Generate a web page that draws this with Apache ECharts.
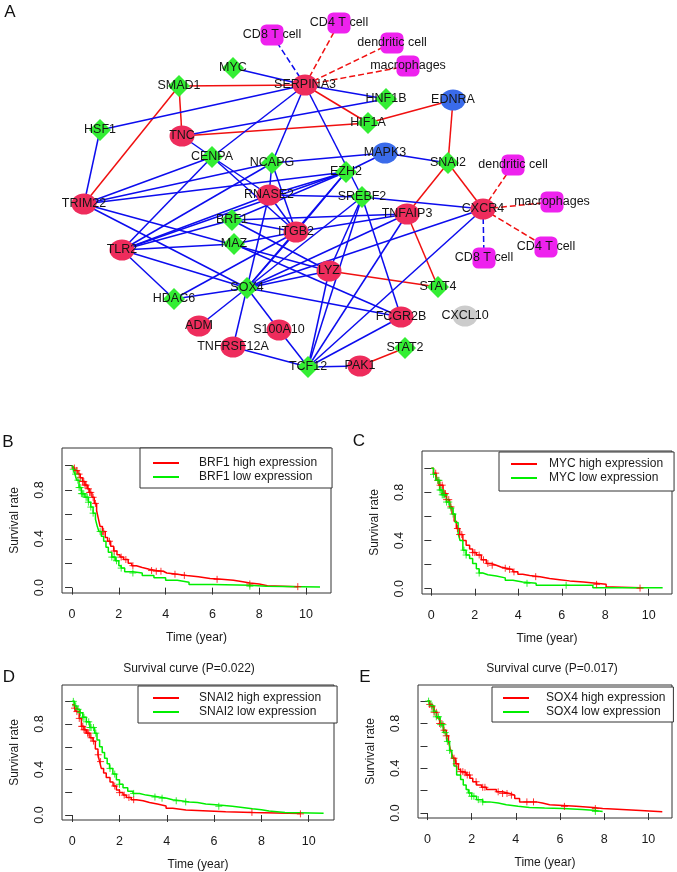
<!DOCTYPE html>
<html><head><meta charset="utf-8">
<script src="https://cdn.jsdelivr.net/npm/echarts@6/dist/echarts.min.js"></script>
<style>html,body{margin:0;padding:0;background:#fff}#c{width:677px;height:872px}</style>
</head><body><div id="c"></div><script>
// ---------------- Panel A: network data ----------------
// [id, label, type, x, y]  (layout position of each node in the figure)
const netNodes = [
 ['CD8a','CD8 T cell','cell',272,35],
 ['CD4a','CD4 T cell','cell',339,23],
 ['DCa','dendritic cell','cell',392,43],
 ['MACa','macrophages','cell',408,66],
 ['MYC','MYC','tf',233,68],
 ['SMAD1','SMAD1','tf',179,86],
 ['SERPINA3','SERPINA3','gene',305,85],
 ['HNF1B','HNF1B','tf',386,99],
 ['EDNRA','EDNRA','blue',453,100],
 ['HSF1','HSF1','tf',100,130],
 ['TNC','TNC','gene',182,136],
 ['HIF1A','HIF1A','tf',368,123],
 ['CENPA','CENPA','tf',212,157],
 ['NCAPG','NCAPG','tf',272,163],
 ['MAPK3','MAPK3','blue',385,153],
 ['SNAI2','SNAI2','tf',448,163],
 ['DCb','dendritic cell','cell',513,165],
 ['EZH2','EZH2','tf',346,172],
 ['RNASE2','RNASE2','gene',269,195],
 ['SREBF2','SREBF2','tf',362,197],
 ['TRIM22','TRIM22','gene',84,204],
 ['CXCR4','CXCR4','gene',483,209],
 ['MACb','macrophages','cell',552,202],
 ['TNFAIP3','TNFAIP3','gene',407,214],
 ['BRF1','BRF1','tf',232,220],
 ['ITGB2','ITGB2','gene',296,232],
 ['MAZ','MAZ','tf',234,244],
 ['TLR2','TLR2','gene',122,250],
 ['CD4b','CD4 T cell','cell',546,247],
 ['CD8b','CD8 T cell','cell',484,258],
 ['LYZ','LYZ','gene',329,271],
 ['STAT4','STAT4','tf',438,287],
 ['SOX4','SOX4','tf',247,288],
 ['HDAC6','HDAC6','tf',174,299],
 ['CXCL10','CXCL10','grey',465,316],
 ['FCGR2B','FCGR2B','gene',401,317],
 ['ADM','ADM','gene',199,326],
 ['S100A10','S100A10','gene',279,330],
 ['TNFRSF12A','TNFRSF12A','gene',233,347],
 ['STAT2','STAT2','tf',405,348],
 ['TCF12','TCF12','tf',308,367],
 ['PAK1','PAK1','gene',360,366]
];
// [source, target, kind]  b = blue, r = red, bd / rd = dashed
const netEdges = [
 ['SMAD1','SERPINA3','r'],['SMAD1','TNC','r'],['SMAD1','TRIM22','r'],['TNC','HIF1A','r'],
 ['SERPINA3','HIF1A','r'],['HIF1A','EDNRA','r'],['EDNRA','SNAI2','r'],['SNAI2','CXCR4','r'],
 ['SNAI2','TNFAIP3','r'],['TNFAIP3','STAT4','r'],['LYZ','STAT4','r'],['PAK1','STAT2','r'],
 ['SERPINA3','CD4a','rd'],['SERPINA3','DCa','rd'],['SERPINA3','MACa','rd'],
 ['CXCR4','DCb','rd'],['CXCR4','MACb','rd'],['CXCR4','CD4b','rd'],
 ['SERPINA3','CD8a','bd'],['CXCR4','CD8b','bd'],
 ['MYC','SERPINA3','b'],['SERPINA3','HNF1B','b'],['HSF1','SERPINA3','b'],['SERPINA3','CENPA','b'],
 ['SERPINA3','NCAPG','b'],['SERPINA3','SREBF2','b'],['TNC','HNF1B','b'],['TNC','CENPA','b'],
 ['CENPA','ITGB2','b'],['HSF1','TRIM22','b'],['CENPA','TRIM22','b'],['CENPA','TLR2','b'],
 ['CENPA','RNASE2','b'],['NCAPG','TRIM22','b'],['NCAPG','TLR2','b'],['NCAPG','RNASE2','b'],
 ['NCAPG','ITGB2','b'],['NCAPG','MAPK3','b'],['EZH2','TRIM22','b'],['EZH2','TLR2','b'],
 ['EZH2','MAPK3','b'],['EZH2','ITGB2','b'],['EZH2','BRF1','b'],['EZH2','SOX4','b'],
 ['EZH2','RNASE2','b'],['MAPK3','SNAI2','b'],['RNASE2','SREBF2','b'],['SREBF2','CXCR4','b'],
 ['RNASE2','SOX4','b'],['RNASE2','ITGB2','b'],['RNASE2','TLR2','b'],['BRF1','TLR2','b'],
 ['BRF1','ITGB2','b'],['BRF1','TNFAIP3','b'],['BRF1','LYZ','b'],['MAZ','TLR2','b'],
 ['MAZ','ITGB2','b'],['MAZ','FCGR2B','b'],['ITGB2','SOX4','b'],['ITGB2','TNFAIP3','b'],
 ['ITGB2','HDAC6','b'],['SOX4','HDAC6','b'],['SOX4','ADM','b'],['SOX4','TNFRSF12A','b'],
 ['SOX4','S100A10','b'],['SOX4','LYZ','b'],['SOX4','SREBF2','b'],['SOX4','TNFAIP3','b'],
 ['SOX4','CXCR4','b'],['SOX4','FCGR2B','b'],['SOX4','TLR2','b'],['SOX4','TRIM22','b'],
 ['TLR2','HDAC6','b'],['TRIM22','LYZ','b'],['TCF12','S100A10','b'],['TCF12','TNFRSF12A','b'],
 ['TCF12','PAK1','b'],['TCF12','LYZ','b'],['TCF12','SREBF2','b'],['TCF12','TNFAIP3','b'],
 ['TCF12','CXCR4','b'],['TCF12','FCGR2B','b'],['LYZ','SREBF2','b'],['SREBF2','FCGR2B','b']
];

// ---------------- Panels B-E: Kaplan-Meier data ----------------
const xTicks = [0, 2, 4, 6, 8, 10];
const yTicks = [0, 0.2, 0.4, 0.6, 0.8, 1.0];
const yTickLabels = [0, 0.4, 0.8];

const brf1High = [[0,1],[0.08,0.98],[0.15,0.96],[0.25,0.93],[0.35,0.9],[0.45,0.87],[0.55,0.84],[0.65,0.81],[0.75,0.78],[0.85,0.74],[0.95,0.69],[1.05,0.63],[1.12,0.57],[1.2,0.5],[1.3,0.46],[1.42,0.41],[1.52,0.38],[1.65,0.34],[1.78,0.3],[1.92,0.27],[2.05,0.25],[2.2,0.23],[2.4,0.2],[2.55,0.18],[2.75,0.165],[3.0,0.15],[3.3,0.14],[3.6,0.134],[3.9,0.12],[4.05,0.11],[4.5,0.1],[4.9,0.09],[5.4,0.075],[5.9,0.068],[6.4,0.06],[6.9,0.048],[7.3,0.038],[7.6,0.03],[8.0,0.016],[8.35,0.008],[9.65,0.008]];
const brf1Low = [[0,1],[0.05,0.97],[0.12,0.93],[0.2,0.88],[0.3,0.82],[0.4,0.77],[0.55,0.74],[0.7,0.7],[0.8,0.66],[0.9,0.61],[1.0,0.56],[1.08,0.5],[1.15,0.46],[1.25,0.42],[1.35,0.38],[1.45,0.33],[1.55,0.29],[1.7,0.25],[1.85,0.22],[2.0,0.18],[2.1,0.16],[2.25,0.13],[2.6,0.12],[3.0,0.1],[3.5,0.08],[4.0,0.06],[4.5,0.045],[5.0,0.025],[6.0,0.02],[7.6,0.012],[8.3,0.005],[10.6,0.005]];
const brf1HighCens = [0.1,0.2,0.3,0.35,0.45,0.5,0.55,0.6,0.7,0.75,0.8,0.9,1.0,1.3,1.35,1.6,1.8,2.1,2.3,2.6,3.4,3.6,3.8,4.4,4.8,6.2,7.6,9.65];
const brf1LowCens = [0.05,0.15,0.25,0.3,0.35,0.4,0.45,0.5,0.6,0.65,0.7,0.8,0.9,1.2,1.7,1.8,1.9,2.1,2.6,7.6];

const mycHigh = [[0,1],[0.1,0.96],[0.23,0.9],[0.35,0.86],[0.54,0.79],[0.7,0.74],[0.84,0.68],[0.95,0.62],[1.05,0.56],[1.15,0.5],[1.3,0.45],[1.45,0.4],[1.6,0.36],[1.76,0.33],[1.9,0.3],[2.07,0.28],[2.3,0.24],[2.53,0.21],[2.75,0.195],[2.99,0.18],[3.2,0.17],[3.45,0.16],[3.75,0.14],[3.98,0.12],[4.2,0.11],[4.52,0.1],[5.0,0.085],[5.44,0.075],[5.9,0.065],[6.36,0.055],[7.0,0.045],[7.58,0.036],[8.04,0.014],[8.35,0.008],[9.6,0.005]];
const mycLow = [[0,1],[0.1,0.95],[0.2,0.9],[0.38,0.82],[0.5,0.78],[0.69,0.72],[0.85,0.67],[1.0,0.62],[1.1,0.55],[1.23,0.46],[1.32,0.4],[1.45,0.32],[1.6,0.28],[1.76,0.25],[1.9,0.21],[2.07,0.166],[2.2,0.13],[2.37,0.116],[2.6,0.105],[2.99,0.09],[3.4,0.07],[3.75,0.055],[4.2,0.045],[4.82,0.028],[6.05,0.028],[7.43,0.008],[10.64,0.008]];
const mycHighCens = [0.2,0.3,0.4,0.5,0.6,0.65,0.7,0.8,0.9,1.2,1.3,1.4,1.9,2.0,2.2,2.4,2.6,2.8,3.4,3.6,3.8,4.8,7.6,9.6];
const mycLowCens = [0.1,0.3,0.35,0.4,0.45,0.5,0.55,0.6,0.7,0.8,0.9,1.0,1.5,1.6,2.2,4.4,6.2];

const snai2High = [[0,0.97],[0.1,0.94],[0.18,0.91],[0.3,0.85],[0.39,0.78],[0.5,0.75],[0.6,0.72],[0.75,0.68],[0.88,0.65],[0.98,0.58],[1.09,0.53],[1.16,0.47],[1.23,0.41],[1.33,0.37],[1.44,0.33],[1.6,0.29],[1.73,0.255],[1.87,0.22],[2.0,0.197],[2.15,0.175],[2.29,0.154],[2.5,0.135],[2.71,0.125],[3.0,0.11],[3.27,0.096],[3.6,0.08],[3.97,0.06],[4.25,0.043],[4.81,0.029],[6.49,0.023],[7.62,0.014],[9.65,0.01]];
const snai2Low = [[0,1],[0.1,0.96],[0.2,0.93],[0.32,0.9],[0.45,0.86],[0.6,0.82],[0.75,0.77],[0.95,0.72],[1.05,0.66],[1.16,0.6],[1.27,0.55],[1.37,0.5],[1.48,0.45],[1.58,0.41],[1.72,0.36],[1.87,0.31],[2.0,0.27],[2.15,0.24],[2.35,0.21],[2.57,0.19],[2.85,0.175],[3.13,0.168],[3.4,0.158],[3.69,0.148],[4.0,0.135],[4.25,0.125],[4.6,0.115],[4.95,0.11],[5.3,0.097],[5.65,0.087],[6.2,0.077],[6.77,0.067],[7.2,0.055],[7.62,0.046],[8.0,0.035],[8.32,0.023],[9.0,0.015],[10.63,0.009]];
const snai2HighCens = [0.1,0.2,0.3,0.4,0.45,0.5,0.55,0.65,0.7,0.8,0.9,1.1,1.2,1.8,2.0,2.2,2.4,2.6,7.6,9.65];
const snai2LowCens = [0.05,0.15,0.25,0.35,0.45,0.5,0.6,0.7,0.75,0.8,0.9,1.0,1.6,1.8,2.0,2.6,3.5,3.8,4.4,4.8,6.2];

const sox4High = [[0,1],[0.1,0.97],[0.2,0.95],[0.3,0.9],[0.42,0.85],[0.55,0.8],[0.72,0.74],[0.85,0.69],[0.95,0.64],[1.02,0.58],[1.1,0.53],[1.17,0.49],[1.28,0.44],[1.4,0.39],[1.5,0.37],[1.62,0.36],[1.75,0.34],[1.92,0.31],[2.05,0.28],[2.22,0.25],[2.45,0.23],[2.67,0.21],[3.12,0.19],[3.4,0.175],[3.72,0.16],[3.95,0.13],[4.17,0.1],[4.92,0.09],[5.2,0.075],[5.53,0.06],[6.73,0.05],[7.5,0.04],[7.93,0.036],[8.38,0.024],[9.65,0.012],[10.63,0.006]];
const sox4Low = [[0,1],[0.1,0.96],[0.27,0.91],[0.4,0.86],[0.57,0.79],[0.72,0.72],[0.87,0.64],[1.0,0.56],[1.1,0.49],[1.2,0.42],[1.32,0.34],[1.5,0.3],[1.62,0.25],[1.75,0.21],[1.85,0.18],[2.0,0.15],[2.22,0.12],[2.5,0.1],[2.8,0.09],[3.2,0.075],[3.57,0.06],[4.1,0.05],[4.62,0.045],[5.3,0.04],[6.13,0.033],[7.0,0.025],[7.48,0.015],[7.93,0.015]];
const sox4HighCens = [0.1,0.2,0.3,0.4,0.55,0.65,0.75,0.85,1.2,1.3,1.5,1.6,1.7,1.8,1.9,2.2,2.5,2.6,3.2,3.4,3.6,3.8,4.5,4.8,6.2,7.6];
const sox4LowCens = [0.05,0.2,0.3,0.4,0.5,0.6,0.7,0.8,0.9,1.0,1.9,2.0,2.1,2.3,2.5,7.6];

// ---------------- layout / style ----------------
const FONT = 'Arial, "Liberation Sans", Helvetica, sans-serif';
const RED = '#FF0000', GREEN = '#00EE00';
const panels = [
 {gene:'BRF1', hi:brf1High, lo:brf1Low, hiC:brf1HighCens, loC:brf1LowCens,
  grid:{left:62, top:448, width:269, height:145},
  legend:{left:140, top:448, padding:[8,15,4,12], gap:15}},
 {gene:'MYC', hi:mycHigh, lo:mycLow, hiC:mycHighCens, loC:mycLowCens,
  grid:{left:422, top:451, width:250, height:143},
  legend:{left:499, top:452, padding:[5,11,6,11], gap:7}},
 {gene:'SNAI2', hi:snai2High, lo:snai2Low, hiC:snai2HighCens, loC:snai2LowCens,
  grid:{left:62, top:685, width:272, height:136},
  legend:{left:138, top:686, padding:[5,16,4,14], gap:15}},
 {gene:'SOX4', hi:sox4High, lo:sox4Low, hiC:sox4HighCens, loC:sox4LowCens,
  grid:{left:418, top:685, width:254, height:133},
  legend:{left:492, top:687, padding:[4,8,3,10], gap:12}}
];

function survAt(curve, t) {
  let s = curve[0][1];
  for (const p of curve) { if (p[0] <= t) s = p[1]; else break; }
  return s;
}
const PLUS = 'path://M0,5L10,5M5,0L5,10';

const grids = [{left:0, top:0, width:677, height:872, show:false}];
const xAxes = [{gridIndex:0, type:'value', min:0, max:677, show:false}];
const yAxes = [{gridIndex:0, type:'value', min:0, max:872, inverse:true, show:false}];
const legends = [];
const series = [];

panels.forEach((p, k) => {
  const gi = k + 1;
  grids.push(Object.assign({show:true, borderColor:'#333', borderWidth:1, backgroundColor:'transparent'}, p.grid));
  xAxes.push({gridIndex:gi, type:'value', min:-0.43, max:11.07,
    axisLine:{show:false}, splitLine:{show:false},
    axisTick:{show:true, customValues:xTicks, length:7, lineStyle:{color:'#333'}},
    axisLabel:{customValues:xTicks, margin:15, fontSize:12.5, color:'#1a1a1a', fontFamily:FONT},
    name:'Time (year)', nameLocation:'middle', nameGap:39,
    nameTextStyle:{fontSize:12, color:'#1a1a1a', fontFamily:FONT}});
  yAxes.push({gridIndex:gi, type:'value', min:-0.044, max:1.144,
    axisLine:{show:false}, splitLine:{show:false},
    axisTick:{show:true, customValues:yTicks, length:7, lineStyle:{color:'#333'}},
    axisLabel:{customValues:yTickLabels, rotate:90, margin:16, fontSize:12.5, color:'#1a1a1a', fontFamily:FONT,
      formatter:v => Number(v).toFixed(1)},
    name:'Survival rate', nameLocation:'middle', nameRotate:90, nameGap:41,
    nameTextStyle:{fontSize:12, color:'#1a1a1a', fontFamily:FONT}});
  const hiName = p.gene + ' high expression', loName = p.gene + ' low expression';
  legends.push({orient:'vertical', left:p.legend.left, top:p.legend.top, padding:p.legend.padding,
    itemWidth:26, itemHeight:14, itemGap:0, borderColor:'#333', borderWidth:1, borderRadius:0,
    backgroundColor:'#fff', selectedMode:false,
    itemStyle:{color:'transparent', borderColor:'transparent', borderWidth:0},
    textStyle:{fontSize:12, color:'#1a1a1a', fontFamily:FONT, lineHeight:14, padding:[0,0,0,p.legend.gap]},
    data:[hiName, loName]});
  [[hiName, p.hi, p.hiC, RED], [loName, p.lo, p.loC, GREEN]].forEach(([nm, curve, cens, col]) => {
    series.push({type:'line', name:nm, xAxisIndex:gi, yAxisIndex:gi, step:'end', symbol:'none',
      data:curve, lineStyle:{color:col, width:1.5}, itemStyle:{color:col}, z:3, animation:false});
    series.push({type:'scatter', name:nm + ' censored', xAxisIndex:gi, yAxisIndex:gi,
      symbol:PLUS, symbolSize:7, data:cens.map(t => [t, survAt(curve, t)]),
      itemStyle:{color:'transparent', borderColor:col, borderWidth:1}, z:4, animation:false});
  });
});

// network series
const typeStyle = {
  gene:{symbol:'circle', size:[25,21], color:'#EE2C5C'},
  tf:{symbol:'diamond', size:[22,22], color:'#33EE33'},
  blue:{symbol:'circle', size:[25,21], color:'#3A6BEA'},
  grey:{symbol:'circle', size:[25,21], color:'#CCCCCC'},
  cell:{symbol:'roundRect', size:[23,21], color:'#EE22EE'}
};
const edgeStyle = {
  b:{color:'#0C0CEE', type:'solid'}, r:{color:'#F01010', type:'solid'},
  bd:{color:'#0C0CEE', type:'dashed'}, rd:{color:'#F01010', type:'dashed'}
};
const idx = {};
netNodes.forEach((n, i) => { idx[n[0]] = i; });
series.push({type:'graph', coordinateSystem:'cartesian2d', xAxisIndex:0, yAxisIndex:0,
  layout:'none', roam:false, animation:false, z:2,
  data: netNodes.map(n => ({name:n[0], value:[n[3], n[4]], symbol:typeStyle[n[2]].symbol,
    symbolSize:typeStyle[n[2]].size, itemStyle:{color:typeStyle[n[2]].color},
    label:{formatter:n[1]}})),
  links: netEdges.map(e => ({source:idx[e[0]], target:idx[e[1]],
    lineStyle:{color:edgeStyle[e[2]].color, type:edgeStyle[e[2]].type, width:1.5, opacity:1}})),
  label:{show:true, position:'inside', fontSize:12.5, color:'#151515', fontFamily:FONT},
  emphasis:{disabled:true}
});

const letters = [['A',10,12],['B',8,442],['C',359,441],['D',9,677],['E',365,677]];
const titles = [['Survival curve (P=0.022)',189,669],['Survival curve (P=0.017)',552,669]];
const graphic = [];
letters.forEach(l => graphic.push({type:'text', x:l[1], y:l[2],
  style:{text:l[0], fontSize:17, fill:'#111', fontFamily:FONT, align:'center', verticalAlign:'middle'}}));
titles.forEach(t => graphic.push({type:'text', x:t[1], y:t[2],
  style:{text:t[0], fontSize:12, fill:'#1a1a1a', fontFamily:FONT, align:'center', verticalAlign:'middle'}}));

const chart = echarts.init(document.getElementById('c'), null, {renderer:'canvas'});
chart.setOption({animation:false, backgroundColor:'#fff', grid:grids, xAxis:xAxes, yAxis:yAxes,
  legend:legends, series:series, graphic:graphic});
</script></body></html>
